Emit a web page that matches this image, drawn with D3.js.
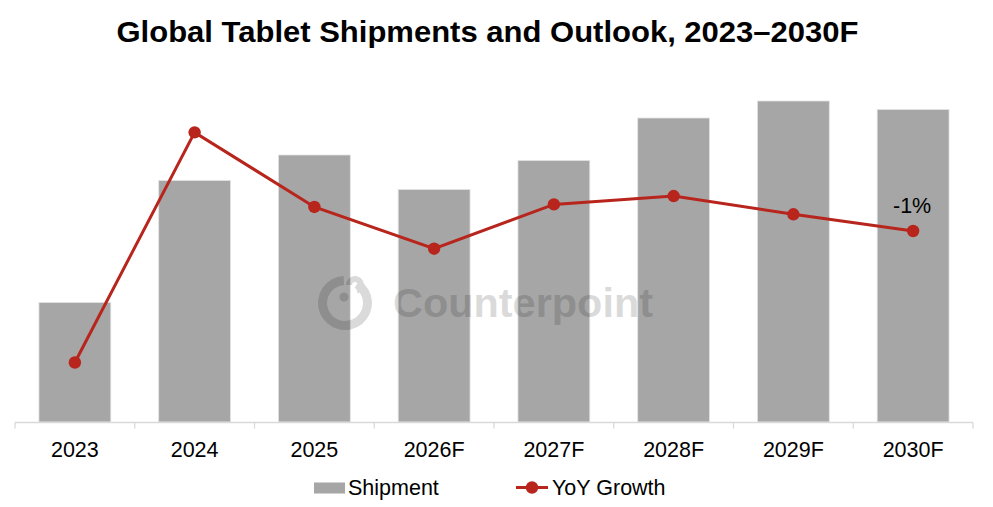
<!DOCTYPE html>
<html>
<head>
<meta charset="utf-8">
<script src="https://cdn.jsdelivr.net/npm/d3@7"></script>
<style>
  html, body { margin: 0; padding: 0; background: #fff; }
  svg { display: block; font-family: "Liberation Sans", Arial, sans-serif; }
</style>
</head>
<body>
<div id="chart"></div>
<script>
const years = ["2023", "2024", "2025", "2026F", "2027F", "2028F", "2029F", "2030F"];
// shipments (M units)
const shipments = [119.9, 144.3, 149.4, 142.5, 148.3, 156.8, 160.2, 158.5];
// YoY growth in %
const yoy = [-26.2, 17.9, 3.6, -4.4, 4.1, 5.7, 2.2, -1.0];
const labelled = ["2030F"]; // points with a value label

const W = 993, H = 507;
const barColor = "#a6a6a6";
const red = "#b8251c";

const svg = d3.select("#chart").append("svg")
  .attr("width", W).attr("height", H);

// title
svg.append("text")
  .attr("x", 116.5).attr("y", 41.5)
  .attr("textLength", 742).attr("lengthAdjust", "spacingAndGlyphs")
  .style("font-size", "29.5px").style("font-weight", "bold")
  .attr("fill", "#000")
  .text("Global Tablet Shipments and Outlook, 2023\u20132030F");

const x = d3.scaleBand()
  .domain(years)
  .range([15, 973])
  .paddingInner(0.4)
  .paddingOuter(0.2);

const yBar = d3.scaleLinear().domain([96, 164]).range([422, 82]);
const yLine = d3.scaleLinear().domain([-37.6, 27.55]).range([422, 82]);

// bars
svg.append("g").selectAll("rect")
  .data(years)
  .join("rect")
  .attr("x", (d) => x(d))
  .attr("width", x.bandwidth())
  .attr("y", (d, i) => yBar(shipments[i]))
  .attr("height", (d, i) => yBar.range()[0] - yBar(shipments[i]))
  .attr("fill", barColor)
  .attr("stroke", "#e3e3e3")
  .attr("stroke-width", 0.8);

// watermark
const wm = svg.append("g").attr("opacity", 0.14);
const cx = 345, cy = 303;
wm.append("path")
  .attr("transform", `translate(${cx},${cy})`)
  .attr("d", d3.arc()
    .innerRadius(18).outerRadius(27)
    .startAngle(Math.PI * 0.18)
    .endAngle(Math.PI * 2 - 0.05)())
  .attr("fill", "#000");
wm.append("path")
  .attr("transform", `translate(${cx + 10},${cy - 18})`)
  .attr("d", d3.arc()
    .innerRadius(3).outerRadius(9)
    .startAngle(-Math.PI * 0.5)
    .endAngle(Math.PI * 0.9)())
  .attr("fill", "#000");
wm.append("circle").attr("cx", cx - 1).attr("cy", cy - 6).attr("r", 4.5).attr("fill", "#000");
wm.append("text")
  .attr("x", 393).attr("y", 317)
  .attr("textLength", 260).attr("lengthAdjust", "spacingAndGlyphs")
  .style("font-size", "41px").style("font-weight", "bold")
  .attr("fill", "#000")
  .text("Counterpoint");

// x axis
const axisY = 422.5;
const xAxis = svg.append("g")
  .attr("transform", `translate(0,${axisY})`)
  .call(d3.axisBottom(x).tickSize(0).tickPadding(19));
xAxis.select(".domain").attr("stroke", "#d9d9d9").attr("stroke-width", 1.3)
  .attr("d", `M${x.range()[0]},0H${x.range()[1]}`);
xAxis.selectAll(".tick text")
  .style("font-size", "21.5px")
  .style("font-family", "'Liberation Sans', Arial, sans-serif")
  .attr("fill", "#000");

// boundary ticks between categories
const bounds = d3.range(years.length + 1).map((i) => x.range()[0] + i * x.step());
xAxis.append("g").selectAll("line")
  .data(bounds)
  .join("line")
  .attr("x1", (d) => d).attr("x2", (d) => d)
  .attr("y1", 0).attr("y2", 6)
  .attr("stroke", "#d9d9d9").attr("stroke-width", 1.3);

// YoY line
const cxOf = (d) => x(d) + x.bandwidth() / 2;
const line = d3.line()
  .x((d) => cxOf(d))
  .y((d, i) => yLine(yoy[i]));

svg.append("path")
  .datum(years)
  .attr("d", line)
  .attr("fill", "none")
  .attr("stroke", red)
  .attr("stroke-width", 3);

svg.append("g").selectAll("circle")
  .data(years)
  .join("circle")
  .attr("cx", (d) => cxOf(d))
  .attr("cy", (d, i) => yLine(yoy[i]))
  .attr("r", 6.2)
  .attr("fill", red);

svg.append("g").selectAll("text")
  .data(years.filter((d) => labelled.includes(d)))
  .join("text")
  .attr("x", (d) => cxOf(d) - 1)
  .attr("y", (d) => yLine(yoy[years.indexOf(d)]) - 18)
  .attr("text-anchor", "middle")
  .style("font-size", "21.5px")
  .attr("fill", "#000")
  .text((d) => Math.round(yoy[years.indexOf(d)]) + "%");

// legend
const lg = svg.append("g");
lg.append("rect")
  .attr("x", 314).attr("y", 482.5).attr("width", 31).attr("height", 11)
  .attr("fill", barColor);
lg.append("text")
  .attr("x", 348).attr("y", 495)
  .style("font-size", "21.5px").attr("fill", "#000")
  .text("Shipment");
lg.append("line")
  .attr("x1", 516).attr("x2", 548).attr("y1", 487.5).attr("y2", 487.5)
  .attr("stroke", red).attr("stroke-width", 3);
lg.append("circle")
  .attr("cx", 532).attr("cy", 487.5).attr("r", 6.2).attr("fill", red);
lg.append("text")
  .attr("x", 552).attr("y", 495)
  .style("font-size", "21.5px").attr("fill", "#000")
  .text("YoY Growth");
</script>
</body>
</html>
